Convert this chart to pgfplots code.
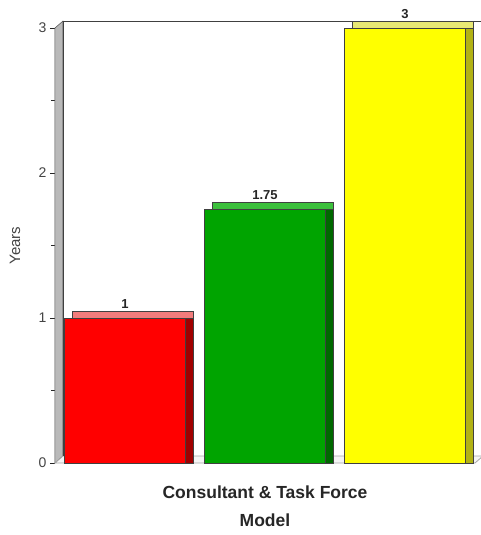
\documentclass[border=0pt]{standalone}
\usepackage{fontspec}
\setmainfont{Liberation Sans}
\usepackage{pgfplots}
\usepackage{pgfplotstable}
\pgfplotsset{compat=1.18}
\definecolor{redF}{HTML}{FF0000}
\definecolor{redT}{HTML}{F27C7C}
\definecolor{redS}{HTML}{A00000}
\definecolor{grnF}{HTML}{00A400}
\definecolor{grnT}{HTML}{3CC03C}
\definecolor{grnS}{HTML}{006800}
\definecolor{yelF}{HTML}{FFFF00}
\definecolor{yelT}{HTML}{E8E874}
\definecolor{yelS}{HTML}{B2B214}
\definecolor{txtgray}{HTML}{444444}
\pgfplotstableread{
x v
0 1
}\dataA
\pgfplotstableread{
x v
1 1.75
}\dataB
\pgfplotstableread{
x v
2 3
}\dataC
\begin{document}
\begin{tikzpicture}
\begin{axis}[
  name=ax,
  scale only axis,
  width=420pt, height=435pt,
  xmin=-0.5, xmax=2.5, ymin=0, ymax=3,
  xtick=\empty,
  ytick={0,1,2,3},
  minor ytick={0.5,1.5,2.5},
  ytick pos=left,
  tick align=outside,
  major tick length=5pt,
  minor tick length=4pt,
  tick style={black!85, line width=0.9pt},
  axis line style={draw=none},
  clip=false,
  /pgf/number format/assume math mode=true,
  yticklabel style={font=\fontsize{14}{14}\selectfont, text=txtgray},
  ylabel={Years},
  ylabel style={at={(axis description cs:0,0.5)}, anchor=center, yshift=40pt, font=\fontsize{15}{15}\selectfont, text=txtgray},
  xlabel={Consultant \& Task Force\\Model},
  xlabel style={at={(axis description cs:0.5,0)}, anchor=north, yshift=-19pt, align=center, font=\bfseries\fontsize{17.5}{28}\selectfont, text=black!85},
  nodes near coords style={font=\bfseries\fontsize{13}{13}\selectfont, yshift=5.5pt, text=black!85},
  every axis plot/.append style={line width=0.6pt, draw=black!75},
]
% left wall
\filldraw[fill=gray!55, draw=black!70, line width=0.5pt] (axis cs:-0.5,0) -- ([shift={(8pt,7pt)}]axis cs:-0.5,0) -- ([shift={(8pt,7pt)}]axis cs:-0.5,3) -- (axis cs:-0.5,3) -- cycle;
% floor
\filldraw[fill=gray!8, draw=gray!70, line width=0.8pt] (axis cs:-0.5,0) -- (axis cs:2.5,0) -- ([shift={(8pt,7pt)}]axis cs:2.5,0) -- ([shift={(8pt,7pt)}]axis cs:-0.5,0) -- cycle;
% back wall edges
\draw[black!75, line width=0.9pt] ([shift={(8pt,7pt)}]axis cs:-0.5,0) -- ([shift={(8pt,7pt)}]axis cs:-0.5,3) -- ([shift={(8pt,7pt)}]axis cs:2.5,3);
% red bar
\addplot[ybar, bar width=121pt, bar shift=8pt, fill=redT] table[x=x, y expr=\thisrow{v}+0.0483] {\dataA};
\addplot[ybar, bar width=121pt, bar shift=8pt, fill=redS] table[x=x, y=v] {\dataA};
\addplot[ybar, bar width=121pt, bar shift=0pt, fill=redF, nodes near coords] table[x=x, y=v] {\dataA};
% green bar
\addplot[ybar, bar width=121pt, bar shift=8pt, fill=grnT] table[x=x, y expr=\thisrow{v}+0.0483] {\dataB};
\addplot[ybar, bar width=121pt, bar shift=8pt, fill=grnS] table[x=x, y=v] {\dataB};
\addplot[ybar, bar width=121pt, bar shift=0pt, fill=grnF, nodes near coords] table[x=x, y=v] {\dataB};
% yellow bar
\addplot[ybar, bar width=121pt, bar shift=8pt, fill=yelT] table[x=x, y expr=\thisrow{v}+0.0483] {\dataC};
\addplot[ybar, bar width=121pt, bar shift=8pt, fill=yelS] table[x=x, y=v] {\dataC};
\addplot[ybar, bar width=121pt, bar shift=0pt, fill=yelF, nodes near coords] table[x=x, y=v] {\dataC};
\end{axis}
\pgfresetboundingbox
\path ([shift={(-55pt,-72pt)}]ax.south west) rectangle ([shift={(6pt,28pt)}]ax.north east);
\end{tikzpicture}
\end{document}
